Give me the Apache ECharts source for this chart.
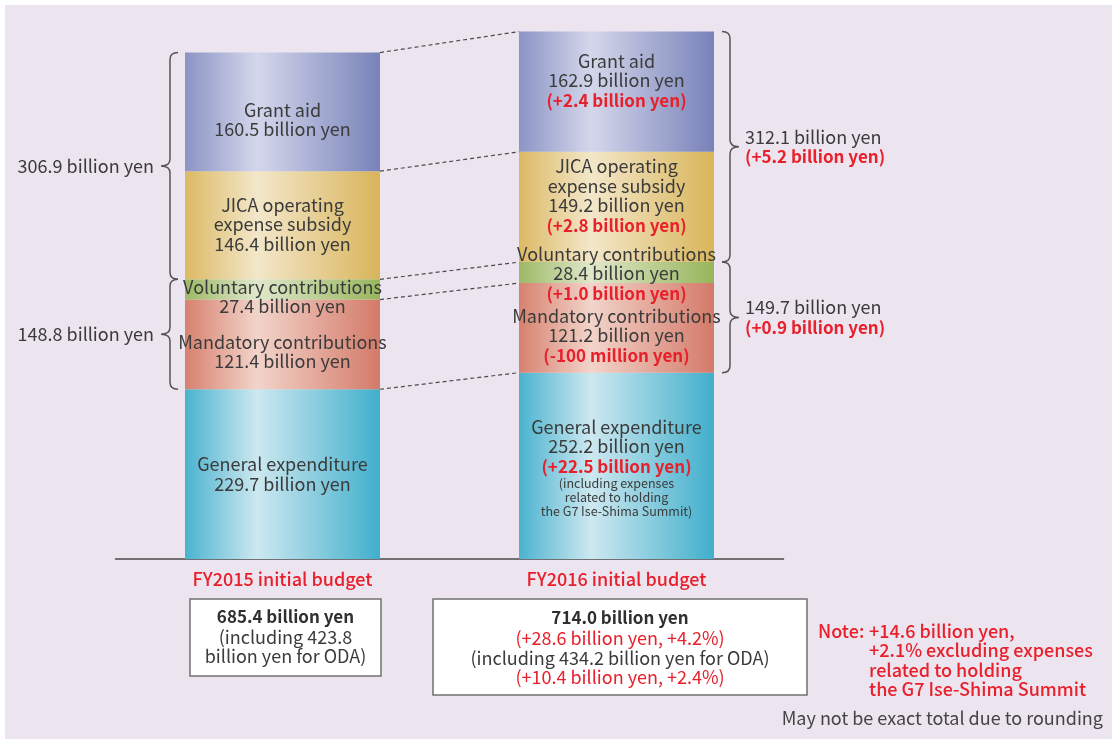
<!DOCTYPE html>
<html>
<head>
<meta charset="utf-8">
<script src="https://cdn.jsdelivr.net/npm/echarts@6/dist/echarts.min.js"></script>
<style>html,body{margin:0;padding:0;background:#fff;}#c{width:1112px;height:739px;}</style>
</head>
<body>
<div id="c"></div>
<script>
// ---------- DATA ----------
const categories = ['FY2015 initial budget', 'FY2016 initial budget'];
const generalExpenditure = [229.7, 252.2];
const mandatoryContrib = [121.4, 121.2];
const voluntaryContrib = [27.4, 28.4];
const jicaSubsidy = [146.4, 149.2];
const grantAid = [160.5, 162.9];

const changeGeneral = [null, '(+22.5 billion yen)'];
const changeMandatory = [null, '(-100 million yen)'];
const changeVoluntary = [null, '(+1.0 billion yen)'];
const changeJica = [null, '(+2.8 billion yen)'];
const changeGrant = [null, '(+2.4 billion yen)'];
const generalNote = [null, ['(including expenses', 'related to holding', 'the G7 Ise-Shima Summit)']];

const bilateralTotal = [306.9, 312.1];
const bilateralChange = [null, '(+5.2 billion yen)'];
const multilateralTotal = [148.8, 149.7];
const multilateralChange = [null, '(+0.9 billion yen)'];

const budgetTotal = [685.4, 714.0];
const odaTotal = [423.8, 434.2];
const budgetTotalChange = [null, '(+28.6 billion yen, +4.2%)'];
const odaTotalChange = [null, '(+10.4 billion yen, +2.4%)'];
const noteLines = ['Note:', '+14.6 billion yen,', '+2.1% excluding expenses', 'related to holding', 'the G7 Ise-Shima Summit'];
const roundingNote = 'May not be exact total due to rounding';

// ---------- STYLE ----------
const FONT = "'Noto Sans CJK JP', 'Noto Sans', sans-serif";
const TXT = '#3b3b3b';
const RED = '#e8202b';
const BAR_W = 195;
const FS = 18;

function grad(edgeL, light, edgeR) {
  return new echarts.graphic.LinearGradient(0, 0, 1, 0, [
    {offset: 0, color: edgeL}, {offset: 0.37, color: light}, {offset: 1, color: edgeR}
  ]);
}

// label vertical nudges (pixels) per segment per category: styling only
const labelShift = [[0, 2], [7, 8], [7, 1], [-1, -11], [8, -11]];

const segs = [
  {name: 'General expenditure', title: ['General expenditure'], data: generalExpenditure, change: changeGeneral, note: generalNote,
   color: grad('#4ab3cf', '#cde8f0', '#41afcc')},
  {name: 'Mandatory contributions', title: ['Mandatory contributions'], data: mandatoryContrib, change: changeMandatory,
   color: grad('#d7816f', '#f2d4ca', '#d47a69')},
  {name: 'Voluntary contributions', title: ['Voluntary contributions'], data: voluntaryContrib, change: changeVoluntary,
   color: grad('#9cb966', '#dfe8cb', '#97b55c')},
  {name: 'JICA operating expense subsidy', title: ['JICA operating', 'expense subsidy'], data: jicaSubsidy, change: changeJica,
   color: grad('#dcb964', '#f3e7ca', '#d9b55b')},
  {name: 'Grant aid', title: ['Grant aid'], data: grantAid, change: changeGrant,
   color: grad('#8b94c5', '#d4d7eb', '#7882b9')}
];

function cum(ci, k) { // sum of first k segments for category ci
  let s = 0; for (let i = 0; i < k; i++) s += segs[i].data[ci]; return s;
}

const rich = {
  n: {fontFamily: FONT, fontSize: FS, color: TXT, lineHeight: 19.5},
  r: {fontFamily: FONT, fontSize: 17, fontWeight: 'bold', color: RED, lineHeight: 20},
  s: {fontFamily: FONT, fontSize: 12.5, color: TXT, lineHeight: 14}
};

const barSeries = segs.map((sg, si) => ({
  type: 'bar', name: sg.name, stack: 'total', barWidth: BAR_W,
  itemStyle: {color: sg.color},
  label: {
    show: true, position: 'inside', rich: rich,
    formatter: function (p) {
      const ci = p.dataIndex;
      const out = sg.title.map(t => '{n|' + t + '}');
      out.push('{n|' + p.value.toFixed(1) + ' billion yen}');
      if (sg.change[ci]) out.push('{r|' + sg.change[ci] + '}');
      if (sg.note && sg.note[ci]) sg.note[ci].forEach(t => out.push('{s|' + t + '}'));
      return out.join('\n');
    }
  },
  data: sg.data.map((v, ci) => ({value: v, label: {offset: [0, labelShift[si][ci]]}})),
  z: 2
}));

const connectorSeries = {
  type: 'custom', silent: true, z: 1,
  data: [[0, 1], [0, 2], [0, 3], [0, 4], [0, 5]],
  renderItem: function (params, api) {
    const k = api.value(1);
    const p1 = api.coord([0, cum(0, k)]);
    const p2 = api.coord([1, cum(1, k)]);
    return {type: 'line', shape: {x1: p1[0] + BAR_W / 2, y1: p1[1], x2: p2[0] - BAR_W / 2, y2: p2[1]},
      style: {stroke: '#4a4a4a', lineWidth: 1.2, lineDash: [4, 3]}};
  }
};

function bracePath(x, yTop, yBot, dir) { // dir = -1 tip to left, +1 tip to right
  const r = 8 * -dir;
  const t = 9 * dir;
  const ym = (yTop + yBot) / 2;
  const q = 7;
  return 'M' + (x + r) + ' ' + yTop +
    ' Q' + x + ' ' + yTop + ' ' + x + ' ' + (yTop + q) +
    ' L' + x + ' ' + (ym - q) +
    ' Q' + x + ' ' + ym + ' ' + (x + t) + ' ' + ym +
    ' Q' + x + ' ' + ym + ' ' + x + ' ' + (ym + q) +
    ' L' + x + ' ' + (yBot - q) +
    ' Q' + x + ' ' + yBot + ' ' + (x + r) + ' ' + yBot;
}

const braceSeries = {
  type: 'custom', silent: true, z: 3,
  data: [[0, 0], [0, 1], [1, 0], [1, 1]],
  renderItem: function (params, api) {
    const ci = api.value(0), g = api.value(1);
    const lo = g === 0 ? 3 : 1, hi = g === 0 ? 5 : 3;
    const pTop = api.coord([ci, cum(ci, hi)]);
    const pBot = api.coord([ci, cum(ci, lo)]);
    const dir = ci === 0 ? -1 : 1;
    const x = ci === 0 ? pTop[0] - BAR_W / 2 - 15 : pTop[0] + BAR_W / 2 + 16;
    const ym = (pTop[1] + pBot[1]) / 2;
    const total = g === 0 ? bilateralTotal : multilateralTotal;
    const chg = g === 0 ? bilateralChange : multilateralChange;
    const children = [{type: 'path', shape: {pathData: bracePath(x, pTop[1], pBot[1], dir)},
      style: {stroke: '#555', lineWidth: 1.5, fill: null}}];
    if (ci === 0) {
      children.push({type: 'text', style: {text: total[ci].toFixed(1) + ' billion yen', x: x - 16, y: ym,
        align: 'right', verticalAlign: 'middle', fill: TXT, font: FS + 'px ' + FONT}});
    } else {
      children.push({type: 'text', style: {text: total[ci].toFixed(1) + ' billion yen', x: x + 15, y: ym - 10,
        align: 'left', verticalAlign: 'middle', fill: TXT, font: FS + 'px ' + FONT}});
      children.push({type: 'text', style: {text: chg[ci], x: x + 15, y: ym + 10,
        align: 'left', verticalAlign: 'middle', fill: RED, font: 'bold 17px ' + FONT}});
    }
    return {type: 'group', children: children};
  }
};

function t(text, x, y, font, fill, align) {
  return {type: 'text', x: x, y: y, z: 10,
    style: {text: text, fill: fill || TXT, font: font || (FS + 'px ' + FONT), align: align || 'center', verticalAlign: 'middle'}};
}
const BOLD = 'bold 17px ' + FONT;
const REDF = '500 18px ' + FONT;

const graphics = [
  {type: 'rect', shape: {x: 5, y: 5, width: 1107, height: 734}, style: {fill: '#ece5f0'}, z: -10, silent: true},
  {type: 'rect', shape: {x: 190, y: 599, width: 191, height: 77}, style: {fill: '#fff', stroke: '#707070', lineWidth: 1.5}, z: 5},
  {type: 'rect', shape: {x: 433, y: 599, width: 374, height: 96}, style: {fill: '#fff', stroke: '#707070', lineWidth: 1.5}, z: 5},
  t(budgetTotal[0].toFixed(1) + ' billion yen', 285.5, 617, BOLD, '#2f2f2f'),
  t('(including ' + odaTotal[0].toFixed(1), 285.5, 637),
  t('billion yen for ODA)', 285.5, 656),
  t(budgetTotal[1].toFixed(1) + ' billion yen', 620, 618, BOLD, '#2f2f2f'),
  t(budgetTotalChange[1], 620, 638, FS + 'px ' + FONT, RED),
  t('(including ' + odaTotal[1].toFixed(1) + ' billion yen for ODA)', 620, 658),
  t(odaTotalChange[1], 620, 677, FS + 'px ' + FONT, RED),
  t(noteLines[0], 818, 631, REDF, RED, 'left'),
  t(noteLines[1], 869, 631, REDF, RED, 'left'),
  t(noteLines[2], 869, 650, REDF, RED, 'left'),
  t(noteLines[3], 869, 670, REDF, RED, 'left'),
  t(noteLines[4], 869, 689, REDF, RED, 'left'),
  t(roundingNote, 1103, 718, FS + 'px ' + FONT, '#444', 'right')
];

const chart = echarts.init(document.getElementById('c'), null, {renderer: 'canvas'});
chart.setOption({
  animation: false,
  backgroundColor: '#ffffff',
  grid: {left: 115.5, right: 328.5, top: 27, bottom: 180, containLabel: false},
  xAxis: {
    type: 'category', data: categories,
    axisLine: {lineStyle: {color: '#4a4a4a', width: 1.5}},
    axisTick: {show: false},
    axisLabel: {color: RED, fontFamily: FONT, fontSize: 18, fontWeight: 500, margin: 11}
  },
  yAxis: {type: 'value', min: 0, max: 720, show: false, splitLine: {show: false}},
  series: barSeries.concat([connectorSeries, braceSeries]),
  graphic: graphics
});
</script>
</body>
</html>
